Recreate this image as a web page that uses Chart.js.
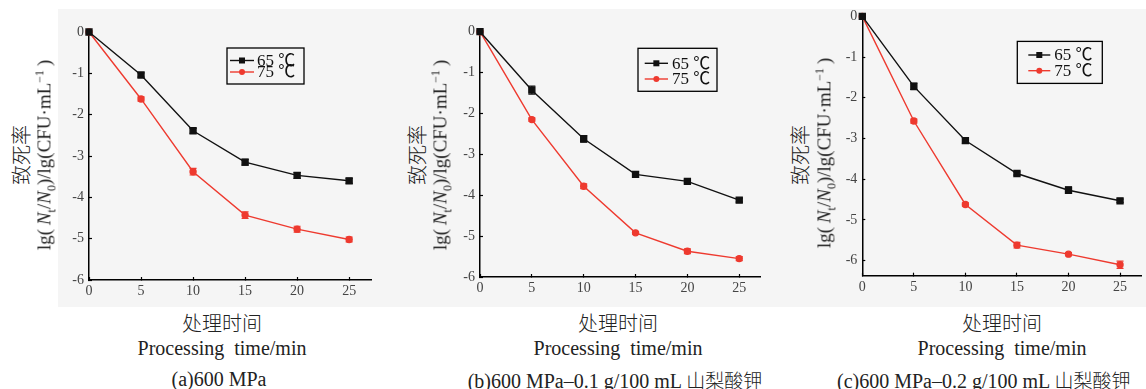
<!DOCTYPE html>
<html>
<head>
<meta charset="utf-8">
<script src="https://cdn.jsdelivr.net/npm/chart.js@4.4.1/dist/chart.umd.min.js"></script>
<style>
  body { margin: 0; width: 1146px; height: 389px; overflow: hidden; background: #fff; position: relative;
         font-family: 'Liberation Serif', 'Noto Sans CJK SC', serif; color: #222; }
  .bg { position: absolute; left: 58px; top: 9px; width: 1088px; height: 298px; background: #f5f5f5; }
  canvas { position: absolute; top: 0; }
  .t { position: absolute; white-space: nowrap; transform: translate(-50%, -50%); }
  .rot { transform: translate(-50%, -50%) rotate(-90deg); }
  .cjk { font-family: 'Noto Sans CJK SC', serif; font-size: 20px; font-weight: 300; }
  .lab { font-size: 19px; }
  .xl { font-size: 20px; }
  .cap { font-size: 20px; }
  .cap span { font-family: 'Noto Sans CJK SC', serif; font-weight: 300; font-size: 19px; }
  sub, sup { font-size: 12px; }
</style>
</head>
<body>
<div class="bg"></div>
<canvas id="chartA" width="330" height="305" style="left:55px"></canvas>
<canvas id="chartB" width="330" height="305" style="left:445px"></canvas>
<canvas id="chartC" width="320" height="305" style="left:826px"></canvas>

<!-- axis titles + captions -->
<div class="t rot cjk" style="left:20px;top:155px">致死率</div>
<div class="t rot lab" style="left:46px;top:155px">lg(&thinsp;<i>N</i><sub>t</sub>/<i>N</i><sub>0</sub>)/lg(CFU·mL<sup>−1</sup>&thinsp;)</div>
<div class="t cjk" style="left:222px;top:322px">处理时间</div>
<div class="t xl" style="left:222px;top:348px">Processing&nbsp; time/min</div>
<div class="t cap" style="left:219px;top:379px">(a)600 MPa</div>

<div class="t rot cjk" style="left:416px;top:155px">致死率</div>
<div class="t rot lab" style="left:442px;top:155px">lg(&thinsp;<i>N</i><sub>t</sub>/<i>N</i><sub>0</sub>)/lg(CFU·mL<sup>−1</sup>&thinsp;)</div>
<div class="t cjk" style="left:618px;top:322px">处理时间</div>
<div class="t xl" style="left:618px;top:348px">Processing&nbsp; time/min</div>
<div class="t cap" style="left:615px;top:379px">(b)600 MPa–0.1 g/100 mL <span>山梨酸钾</span></div>

<div class="t rot cjk" style="left:799px;top:155px">致死率</div>
<div class="t rot lab" style="left:826px;top:153px">lg(&thinsp;<i>N</i><sub>t</sub>/<i>N</i><sub>0</sub>)/lg(CFU·mL<sup>−1</sup>&thinsp;)</div>
<div class="t cjk" style="left:1002px;top:322px">处理时间</div>
<div class="t xl" style="left:1002px;top:348px">Processing&nbsp; time/min</div>
<div class="t cap" style="left:837px;top:379px;transform:translate(0,-50%)">(c)600 MPa–0.2 g/100 mL <span>山梨酸钾</span></div>

<script>
// --- Data ---
const times = [0, 5, 10, 15, 20, 25];
const seriesLabels = ['65 ℃', '75 ℃'];

// (a) 600 MPa
const a65 = [0, -1.04, -2.39, -3.15, -3.47, -3.60];
const a75 = [0, -1.62, -3.38, -4.43, -4.77, -5.02];
const a65Err = [0, 0.05, 0.06, 0.07, 0.07, 0.06];
const a75Err = [0, 0.05, 0.08, 0.08, 0.07, 0.06];

// (b) 600 MPa + 0.1 g/100 mL potassium sorbate
const b65 = [0, -1.43, -2.62, -3.49, -3.66, -4.12];
const b75 = [0, -2.15, -3.78, -4.92, -5.37, -5.55];
const b65Err = [0, 0.10, 0.08, 0.07, 0.04, 0.05];
const b75Err = [0, 0.04, 0.06, 0.03, 0.06, 0.05];

// (c) 600 MPa + 0.2 g/100 mL potassium sorbate
const c65 = [0, -1.72, -3.05, -3.86, -4.27, -4.53];
const c75 = [0, -2.57, -4.62, -5.62, -5.84, -6.10];
const c65Err = [0, 0.08, 0.07, 0.04, 0.08, 0.04];
const c75Err = [0, 0.05, 0.04, 0.07, 0.04, 0.09];

const BLACK = '#111111';
const RED = '#ee3a2f';
const tickFont = { family: "'Liberation Serif', serif", size: 14 };

// --- Error bars, drawn through the chart's own scales ---
const errorBars = {
  id: 'errorBars',
  afterDatasetsDraw(chart) {
    const ctx = chart.ctx;
    const xs = chart.scales.x, ys = chart.scales.y;
    ctx.save();
    chart.data.datasets.forEach(ds => {
      ctx.strokeStyle = ds.borderColor;
      ctx.lineWidth = 1.2;
      ds.data.forEach((p, i) => {
        const e = ds.errors[i];
        if (!e) return;
        const x = xs.getPixelForValue(p.x);
        const y1 = ys.getPixelForValue(p.y + e);
        const y2 = ys.getPixelForValue(p.y - e);
        ctx.beginPath();
        ctx.moveTo(x, y1); ctx.lineTo(x, y2);
        ctx.moveTo(x - 3.5, y1); ctx.lineTo(x + 3.5, y1);
        ctx.moveTo(x - 3.5, y2); ctx.lineTo(x + 3.5, y2);
        ctx.stroke();
      });
    });
    ctx.restore();
  }
};

// --- Boxed legend inside the plot ---
const boxLegend = {
  id: 'boxLegend',
  afterDraw(chart, args, opts) {
    const ctx = chart.ctx;
    const area = chart.chartArea;
    const bx = area.left + opts.dx, by = area.top + opts.dy;
    ctx.save();
    ctx.strokeStyle = '#000';
    ctx.lineWidth = 1.3;
    ctx.strokeRect(bx, by, opts.w, opts.h);
    ctx.font = "17px 'Liberation Serif', 'Noto Sans CJK SC', serif";
    ctx.textBaseline = 'middle';
    chart.data.datasets.forEach((ds, i) => {
      const y = by + opts.rows[i];
      ctx.strokeStyle = ds.borderColor;
      ctx.lineWidth = 1.4;
      ctx.beginPath();
      ctx.moveTo(bx + opts.line[0], y);
      ctx.lineTo(bx + opts.line[1], y);
      ctx.stroke();
      const mx = bx + (opts.line[0] + opts.line[1]) / 2;
      ctx.fillStyle = ds.borderColor;
      if (ds.pointStyle === 'rect') {
        ctx.fillRect(mx - 3, y - 3, 6, 6);
      } else {
        ctx.beginPath(); ctx.arc(mx, y, 3, 0, Math.PI * 2); ctx.fill();
      }
      ctx.fillStyle = '#111';
      ctx.fillText(ds.label, bx + opts.textX, y + 1);
    });
    ctx.restore();
  }
};

function makeDataset(label, values, errs, color, style) {
  return {
    label: label,
    data: times.map((t, i) => ({ x: t, y: values[i] })),
    errors: errs,
    borderColor: color,
    backgroundColor: color,
    borderWidth: 1.4,
    pointStyle: style,
    pointRadius: style === 'rect' ? 4.2 : 3,
    pointHoverRadius: 4,
    showLine: true,
    tension: 0,
    clip: false
  };
}

function makePanel(id, s65, s75, e65, e75, lay) {
  const ctx = document.getElementById(id).getContext('2d');
  return new Chart(ctx, {
    type: 'scatter',
    data: {
      datasets: [
        makeDataset(seriesLabels[0], s65, e65, BLACK, 'rect'),
        makeDataset(seriesLabels[1], s75, e75, RED, 'circle')
      ]
    },
    options: {
      responsive: false,
      animation: false,
      layout: {
        autoPadding: false,
        padding: { left: 0, top: lay.padTop, right: lay.padRight, bottom: lay.padBottom }
      },
      plugins: {
        legend: { display: false },
        tooltip: { enabled: false },
        boxLegend: lay.legend
      },
      scales: {
        x: {
          type: 'linear',
          min: 0,
          max: lay.xMax,
          afterFit(s) { s.height = 20; },
          ticks: { stepSize: 5, includeBounds: false, font: tickFont, color: '#444', padding: 6, maxRotation: 0 },
          grid: { drawOnChartArea: false, tickLength: -3, tickColor: '#000', tickWidth: 1.2 },
          border: { color: '#000', width: 1.5 }
        },
        y: {
          type: 'linear',
          min: lay.yMin,
          max: 0,
          afterFit(s) { s.width = lay.yW; },
          ticks: { stepSize: 1, includeBounds: false, font: tickFont, color: '#444', padding: 8 },
          grid: { drawOnChartArea: false, tickLength: -3, tickColor: '#000', tickWidth: 1.2 },
          border: { color: '#000', width: 1.5 }
        }
      }
    },
    plugins: [errorBars, boxLegend]
  });
}

makePanel('chartA', a65, a75, a65Err, a75Err, {
  padTop: 32, padRight: 14, padBottom: 5, yW: 34, xMax: 27.1, yMin: -6,
  legend: { dx: 138, dy: 16, w: 77, h: 36, rows: [12.5, 24], line: [3, 27], textX: 30 }
});
makePanel('chartB', b65, b75, b65Err, b75Err, {
  padTop: 31.7, padRight: 14.3, padBottom: 8, yW: 35, xMax: 27.07, yMin: -6,
  legend: { dx: 158, dy: 16.6, w: 79, h: 43, rows: [15, 30.7], line: [6.7, 30], textX: 34 }
});
makePanel('chartC', c65, c75, c65Err, c75Err, {
  padTop: 15.7, padRight: 4.3, padBottom: 9.3, yW: 36.3, xMax: 27.1, yMin: -6.37,
  legend: { dx: 155, dy: 25, w: 85, h: 42, rows: [13.6, 29.3], line: [11, 33], textX: 37 }
});
</script>
</body>
</html>
